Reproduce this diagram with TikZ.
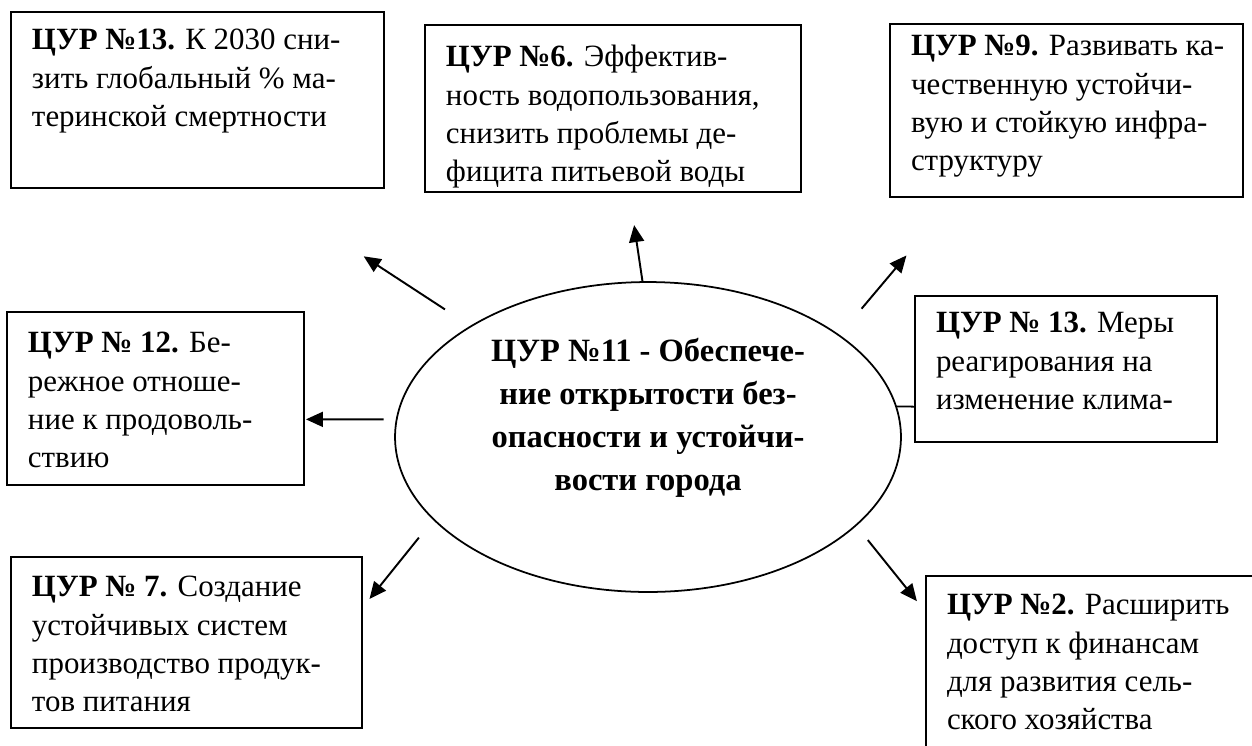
\documentclass[tikz,border=0pt]{standalone}
\usepackage{fontspec}
\setmainfont{Liberation Serif}
\usetikzlibrary{shapes.geometric,arrows.meta}

% text of a goal box: top aligned, margins inside the frame
\newcommand{\goaltext}[4][0.26cm]{\parbox[c][\dimexpr#3-#1-#1\relax][t]{\dimexpr#2-0.84cm\relax}{\begin{tabular}[t]{@{}l@{}}#4\end{tabular}}}

\begin{document}
\begin{tikzpicture}[x=0.02cm,y=-0.02cm,
    goal/.style 2 args={draw,line width=1pt,anchor=north west,inner sep=0pt,outer sep=0pt,
      minimum width=#1,minimum height=#2,font=\fontsize{17.6}{21.8}\selectfont},
    hub/.style={ellipse,draw,line width=1pt,minimum width=10.12cm,minimum height=6.2cm,
      inner sep=0pt,outer sep=0pt,font=\fontsize{18.5}{24.5}\selectfont\bfseries},
    arr/.style={-{Triangle[length=0.34cm,width=0.3cm]},line width=1.1pt}]
  \useasboundingbox (0,0) rectangle (1252,745);

  \node[hub] (hub) at (648,437) {\raisebox{0.24cm}[0pt][0pt]{\begin{tabular}{@{}c@{}}ЦУР №11 - Обеспече-\\ние открытости без-\\опасности и устойчи-\\вости города\end{tabular}}};

  \node[goal={7.46cm}{3.52cm}] (g13a) at (11,12)
    {\goaltext[0.22cm]{7.46cm}{3.52cm}{\textbf{ЦУР №13.} К 2030 сни-\\зить глобальный \% ма-\\теринской смертности}};
  \node[goal={7.52cm}{3.34cm}] (g6) at (425,25)
    {\goaltext[0.3cm]{7.52cm}{3.34cm}{\textbf{ЦУР №6.} Эффектив-\\ность водопользования,\\снизить проблемы де-\\фицита питьевой воды}};
  \node[goal={7.06cm}{3.46cm}] (g9) at (890,24)
    {\goaltext[0.1cm]{7.06cm}{3.46cm}{\textbf{ЦУР №9.} Развивать ка-\\чественную устойчи-\\вую и стойкую инфра-\\структуру}};
  \node[goal={5.94cm}{3.46cm}] (g12) at (7,312)
    {\goaltext[0.28cm]{5.94cm}{3.46cm}{\textbf{ЦУР № 12.} Бе-\\режное отноше-\\ние к продоволь-\\ствию}};
  \node[goal={6.04cm}{2.92cm}] (g13b) at (915,296)
    {\goaltext[0.2cm]{6.04cm}{2.92cm}{\textbf{ЦУР № 13.} Меры\\реагирования на\\изменение клима-}};
  \node[goal={7.02cm}{3.42cm}] (g7) at (11,557)
    {\goaltext{7.02cm}{3.42cm}{\textbf{ЦУР № 7.} Создание\\устойчивых систем\\производство продук-\\тов питания}};
  \node[goal={6.8cm}{3.8cm}] (g2) at (926,576)
    {\goaltext[0.24cm]{6.8cm}{3.8cm}{\textbf{ЦУР №2.} Расширить\\доступ к финансам\\для развития сель-\\ского хозяйства}};

  \draw[arr,shorten <=0.62cm,shorten >=2.5cm] (hub.148.7) -- (g13a.-55.5);
  \draw[arr,shorten >=0.67cm] (hub.92.6) -- (g6.-79.5);
  \draw[arr,shorten <=0.7cm,shorten >=1.53cm] (hub.28.9) -- (g9.-142.4);
  \draw[arr,shorten <=0.26cm,shorten >=0.04cm] (hub.176.4) -- (g12.-8.6);
  \draw[line width=1pt] (hub.7.4) -- (g13b.-166.6);
  \draw[arr,shorten <=0.47cm,shorten >=0.24cm] (hub.-159.8) -- (g7.11.3);
  \draw[arr,shorten <=0.38cm,shorten >=0.29cm] (hub.-23.2) -- (g2.161.8);
\end{tikzpicture}
\end{document}
